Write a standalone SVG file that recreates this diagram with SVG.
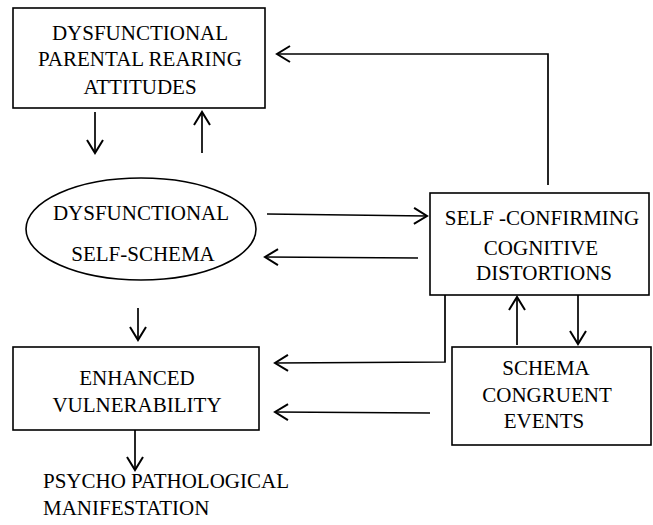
<svg xmlns="http://www.w3.org/2000/svg" width="653" height="525" viewBox="0 0 653 525">
<style>
.box{fill:#fff;stroke:#000;stroke-width:1.6}
text{font-family:"Liberation Serif","Times New Roman",serif;font-size:21px;fill:#000}
.t{text-anchor:middle}
.c{fill:none;stroke:#000;stroke-width:1.7}
</style>
<defs>
<marker id="ah" markerUnits="userSpaceOnUse" markerWidth="18" markerHeight="20" refX="14" refY="9" orient="auto">
<path d="M1,1 L14,9 L1,17" fill="none" stroke="#000" stroke-width="2"/>
</marker>
</defs>
<g id="parental">
<rect class="box" x="13" y="8" width="252" height="100"/>
<text class="t" x="140" y="40" font-family="Liberation Serif, serif">DYSFUNCTIONAL</text>
<text class="t" x="140" y="66" font-family="Liberation Serif, serif">PARENTAL REARING</text>
<text class="t" x="140" y="94" font-family="Liberation Serif, serif">ATTITUDES</text>
</g>
<g id="schema">
<ellipse class="box" cx="141" cy="229" rx="115" ry="51"/>
<text class="t" x="141" y="220" font-family="Liberation Serif, serif">DYSFUNCTIONAL</text>
<text class="t" x="143" y="261" font-family="Liberation Serif, serif">SELF-SCHEMA</text>
</g>
<g id="distortions">
<rect class="box" x="430" y="193" width="219" height="102"/>
<text class="t" x="542" y="225" font-family="Liberation Serif, serif">SELF -CONFIRMING</text>
<text class="t" x="541" y="255" font-family="Liberation Serif, serif">COGNITIVE</text>
<text class="t" x="544" y="280" font-family="Liberation Serif, serif">DISTORTIONS</text>
</g>
<g id="vulnerability">
<rect class="box" x="13" y="347" width="246" height="83"/>
<text class="t" x="137" y="385" font-family="Liberation Serif, serif">ENHANCED</text>
<text class="t" x="137" y="412" font-family="Liberation Serif, serif">VULNERABILITY</text>
</g>
<g id="events">
<rect class="box" x="452" y="347" width="199" height="98"/>
<text class="t" x="546" y="375" font-family="Liberation Serif, serif">SCHEMA</text>
<text class="t" x="547" y="402" font-family="Liberation Serif, serif">CONGRUENT</text>
<text class="t" x="544" y="428" font-family="Liberation Serif, serif">EVENTS</text>
</g>
<g id="manifestation">
<text x="43" y="488" font-family="Liberation Serif, serif">PSYCHO PATHOLOGICAL</text>
<text x="43" y="515" font-family="Liberation Serif, serif">MANIFESTATION</text>
</g>
<g id="connectors">
<path class="c" d="M95,112 L95,153" marker-end="url(#ah)"/>
<path class="c" d="M202,153 L202,112" marker-end="url(#ah)"/>
<path class="c" d="M548,185 L548,54 L277,54" marker-end="url(#ah)"/>
<path class="c" d="M267,214 L427,216" marker-end="url(#ah)"/>
<path class="c" d="M418,258 L265,257" marker-end="url(#ah)"/>
<path class="c" d="M138,308 L138,340" marker-end="url(#ah)"/>
<path class="c" d="M517,345 L517,297" marker-end="url(#ah)"/>
<path class="c" d="M578,295 L578,344" marker-end="url(#ah)"/>
<path class="c" d="M445,295 L445,362 L275,363" marker-end="url(#ah)"/>
<path class="c" d="M430,413 L275,412" marker-end="url(#ah)"/>
<path class="c" d="M135,430 L135,470" marker-end="url(#ah)"/>
</g>
</svg>
